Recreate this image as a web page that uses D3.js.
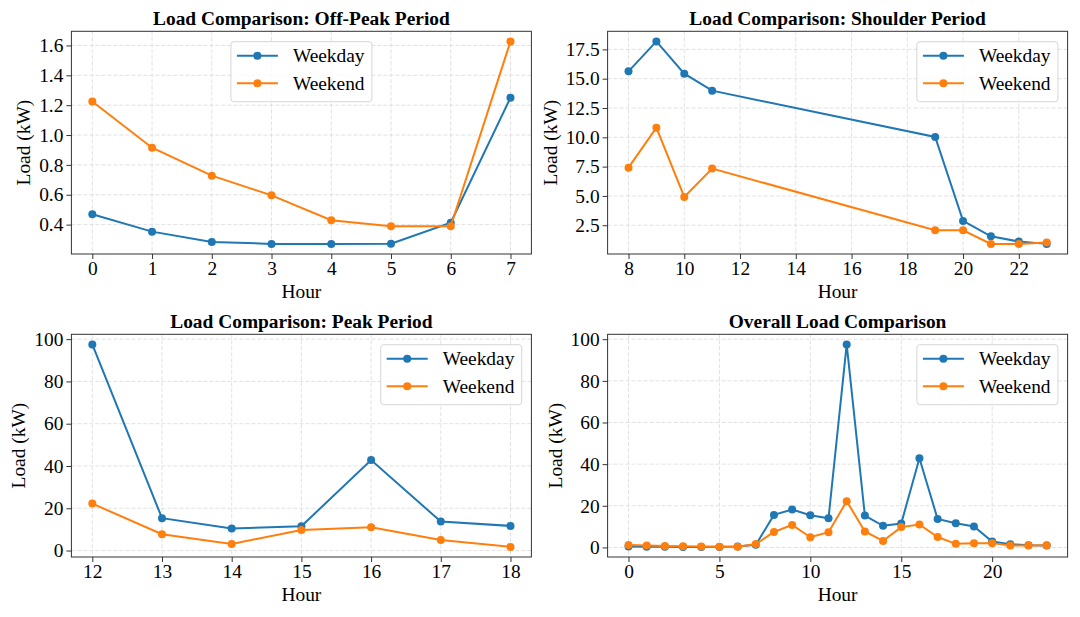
<!DOCTYPE html>
<html>
<head>
<meta charset="utf-8">
<script src="https://cdn.jsdelivr.net/npm/d3@7"></script>
<style>
  body { margin: 0; background: #fff; }
  svg { display: block; }
  text { font-family: "Liberation Serif", "Times New Roman", serif; fill: #000; }
</style>
</head>
<body>
<svg id="chart" width="1080" height="617"></svg>
<script>
// hourly load, kW
let hours = [0, 1, 2, 3, 4, 5, 6, 7, 8, 9, 10, 11, 12, 13, 14, 15, 16, 17, 18, 19, 20, 21, 22, 23];
let weekday = [0.47, 0.353, 0.284, 0.271, 0.271, 0.272, 0.413, 1.25, 15.63, 18.18, 15.43, 13.98,
  97.5, 15.3, 10.4, 11.5, 42.8, 13.7, 11.65, 10.03, 2.87, 1.56, 1.11, 0.91];
let weekend = [1.225, 0.915, 0.728, 0.596, 0.429, 0.389, 0.389, 1.627, 7.41, 10.82, 4.91, 7.33,
  22.2, 7.7, 3.15, 9.76, 11.0, 5.0, 1.73, 2.07, 2.07, 0.91, 0.91, 1.02];

let offPeakHours = [0, 1, 2, 3, 4, 5, 6, 7];
let shoulderHours = [8, 9, 10, 11, 19, 20, 21, 22, 23];
let peakHours = [12, 13, 14, 15, 16, 17, 18];

let seriesNames = ["Weekday", "Weekend"];
let colors = ["#1f77b4", "#ff7f0e"];

let offPeakXTicks = [0, 1, 2, 3, 4, 5, 6, 7];
let offPeakYTicks = [0.4, 0.6, 0.8, 1.0, 1.2, 1.4, 1.6];
let shoulderXTicks = [8, 10, 12, 14, 16, 18, 20, 22];
let shoulderYTicks = [2.5, 5.0, 7.5, 10.0, 12.5, 15.0, 17.5];
let peakXTicks = [12, 13, 14, 15, 16, 17, 18];
let loadYTicks = [0, 20, 40, 60, 80, 100];
let overallXTicks = [0, 5, 10, 15, 20];

let panels = [
  {title: "Load Comparison: Off-Peak Period", hrs: offPeakHours, xt: offPeakXTicks, yt: offPeakYTicks, yf: ".1f", legend: "center"},
  {title: "Load Comparison: Shoulder Period", hrs: shoulderHours, xt: shoulderXTicks, yt: shoulderYTicks, yf: ".1f", legend: "right"},
  {title: "Load Comparison: Peak Period", hrs: peakHours, xt: peakXTicks, yt: loadYTicks, yf: "d", legend: "right"},
  {title: "Overall Load Comparison", hrs: hours, xt: overallXTicks, yt: loadYTicks, yf: "d", legend: "right"}
];

let svg = d3.select("#chart");
let lefts = [71.4, 607.6];
let tops = [31.3, 334.3];
let width = 460;
let height = 222.7;
let fs = 19.4;

// matplotlib style 5% margins
function padded(ext) {
  let p = (ext[1] - ext[0]) * 0.05;
  return [ext[0] - p, ext[1] + p];
}

panels.forEach(function(p, i) {
  let g = svg.append("g")
    .attr("transform", "translate(" + lefts[i % 2] + "," + tops[Math.floor(i / 2)] + ")");

  let series = [weekday, weekend].map(function(arr) {
    return p.hrs.map(function(h) { return {h: h, v: arr[h]}; });
  });
  let allVals = series[0].concat(series[1]).map(function(d) { return d.v; });

  let x = d3.scaleLinear().domain(padded(d3.extent(p.hrs))).range([0, width]);
  let y = d3.scaleLinear().domain(padded(d3.extent(allVals))).range([height, 0]);

  // grid
  g.append("g").selectAll("line").data(p.xt).join("line")
    .attr("x1", function(d) { return x(d); }).attr("x2", function(d) { return x(d); })
    .attr("y1", 0).attr("y2", height)
    .attr("stroke", "#d9d9d9").attr("stroke-width", 0.8).attr("stroke-dasharray", "4,2");
  g.append("g").selectAll("line").data(p.yt).join("line")
    .attr("y1", function(d) { return y(d); }).attr("y2", function(d) { return y(d); })
    .attr("x1", 0).attr("x2", width)
    .attr("stroke", "#d9d9d9").attr("stroke-width", 0.8).attr("stroke-dasharray", "4,2");

  // axes
  let xAxis = g.append("g").attr("transform", "translate(0," + height + ")")
    .call(d3.axisBottom(x).tickValues(p.xt).tickFormat(d3.format("d")).tickSize(5).tickPadding(2.2));
  let yAxis = g.append("g")
    .call(d3.axisLeft(y).tickValues(p.yt).tickFormat(d3.format(p.yf)).tickSize(5).tickPadding(3));
  [xAxis, yAxis].forEach(function(a) {
    a.select(".domain").remove();
    a.selectAll("line").attr("stroke", "#333");
    a.selectAll("text").attr("font-size", fs).attr("font-family", "Liberation Serif").attr("fill", "#000");
  });

  g.append("rect").attr("width", width).attr("height", height)
    .attr("fill", "none").attr("stroke", "#333").attr("stroke-width", 1);

  // lines + markers
  let line = d3.line().x(function(d) { return x(d.h); }).y(function(d) { return y(d.v); });
  series.forEach(function(s, k) {
    g.append("path").attr("d", line(s))
      .attr("fill", "none").attr("stroke", colors[k]).attr("stroke-width", 2);
    g.append("g").selectAll("circle").data(s).join("circle")
      .attr("cx", function(d) { return x(d.h); }).attr("cy", function(d) { return y(d.v); })
      .attr("r", 4).attr("fill", colors[k]);
  });

  // labels
  g.append("text").attr("x", width / 2).attr("y", -6)
    .attr("text-anchor", "middle").attr("font-size", fs).attr("font-weight", "bold")
    .text(p.title);
  g.append("text").attr("x", width / 2).attr("y", height + 44)
    .attr("text-anchor", "middle").attr("font-size", fs).text("Hour");
  let minX = d3.min(yAxis.selectAll("text").nodes(), function(n) { return n.getBBox().x; });
  g.append("text")
    .attr("transform", "translate(" + (minX - 9) + "," + (height / 2) + ") rotate(-90)")
    .attr("text-anchor", "middle").attr("font-size", fs).text("Load (kW)");

  // legend
  let lw = 141, lh = 60;
  let lx = p.legend === "center" ? (width - lw) / 2 : width - lw - 9.7;
  let lg = g.append("g").attr("transform", "translate(" + lx + ",10.4)");
  lg.append("rect").attr("width", lw).attr("height", lh).attr("rx", 3)
    .attr("fill", "#fff").attr("fill-opacity", 0.8).attr("stroke", "#d6d6d6").attr("stroke-width", 1);
  seriesNames.forEach(function(name, k) {
    let ry = 14 + k * 27.6;
    lg.append("line").attr("x1", 6).attr("x2", 47).attr("y1", ry).attr("y2", ry)
      .attr("stroke", colors[k]).attr("stroke-width", 2);
    lg.append("circle").attr("cx", 26.5).attr("cy", ry).attr("r", 4).attr("fill", colors[k]);
    lg.append("text").attr("x", 62).attr("y", ry + 6.8).attr("font-size", fs).text(name);
  });
});
</script>
</body>
</html>
